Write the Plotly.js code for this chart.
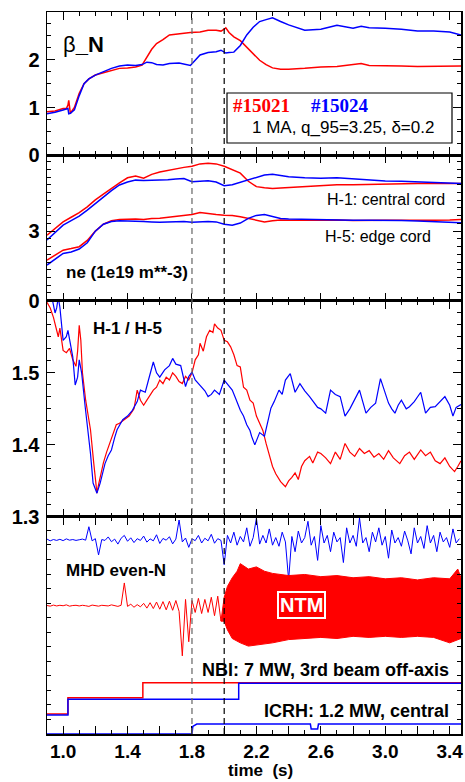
<!DOCTYPE html>
<html>
<head>
<meta charset="utf-8">
<script src="https://cdn.plot.ly/plotly-3.0.1.min.js"></script>
<style>html,body{margin:0;padding:0;background:#fff;}#chart{width:465px;height:782px;}</style>
</head>
<body>
<div id="chart"></div>
<script>
// ---------- Panel 1: beta_N ----------
const tBeta = [0.9, 0.95, 1.0, 1.02, 1.03, 1.035, 1.045, 1.07, 1.1, 1.13, 1.16, 1.2, 1.25, 1.3, 1.35, 1.4, 1.45, 1.49, 1.52, 1.55, 1.58, 1.62, 1.66, 1.72, 1.79, 1.85, 1.9, 1.95, 1.98, 2.0, 2.01, 2.03, 2.06, 2.1, 2.14, 2.18, 2.22, 2.26, 2.3, 2.35, 2.4, 2.5, 2.6, 2.7, 2.8, 2.85, 2.9, 3.0, 3.1, 3.2, 3.3, 3.4, 3.47];
const betaRed = [0.91, 0.93, 0.98, 0.98, 1.05, 1.15, 0.88, 1.0, 1.3, 1.5, 1.6, 1.68, 1.73, 1.78, 1.82, 1.83, 1.85, 1.89, 2.05, 2.22, 2.34, 2.42, 2.52, 2.55, 2.57, 2.58, 2.62, 2.62, 2.6, 2.64, 2.67, 2.57, 2.48, 2.4, 2.27, 2.12, 1.99, 1.9, 1.83, 1.8, 1.8, 1.82, 1.85, 1.86, 1.89, 1.92, 1.88, 1.88, 1.87, 1.86, 1.86, 1.86, 1.87];
const betaBlue = [0.87, 0.9, 0.95, 0.97, 0.98, 0.87, 0.88, 0.95, 1.25, 1.5, 1.6, 1.68, 1.75, 1.82, 1.87, 1.89, 1.88, 1.9, 1.95, 1.94, 1.9, 1.89, 1.92, 1.93, 1.88, 2.1, 2.15, 2.17, 2.2, 2.16, 2.14, 2.15, 2.16, 2.3, 2.52, 2.68, 2.8, 2.84, 2.88, 2.8, 2.73, 2.62, 2.64, 2.72, 2.66, 2.7, 2.67, 2.66, 2.64, 2.6, 2.6, 2.58, 2.52];

// ---------- Panel 2: density ----------
const tNe = [0.9, 1.0, 1.05, 1.1, 1.15, 1.2, 1.25, 1.3, 1.35, 1.4, 1.45, 1.5, 1.55, 1.6, 1.65, 1.7, 1.75, 1.8, 1.85, 1.9, 1.95, 2.0, 2.05, 2.1, 2.15, 2.2, 2.25, 2.3, 2.35, 2.4, 2.5, 2.6, 2.7, 2.8, 2.9, 3.0, 3.1, 3.2, 3.3, 3.4, 3.47];
const neRedH1 = [2.83, 3.4, 3.6, 3.8, 4.05, 4.35, 4.6, 4.85, 5.08, 5.3, 5.38, 5.28, 5.45, 5.55, 5.62, 5.7, 5.75, 5.8, 5.9, 5.93, 5.9, 5.8, 5.65, 5.5, 5.15, 4.92, 4.87, 4.84, 4.86, 4.88, 4.95, 4.98, 5.0, 5.0, 5.02, 5.03, 5.04, 5.05, 5.05, 5.06, 5.06];
const neBlueH1 = [2.62, 3.26, 3.45, 3.65, 3.91, 4.2, 4.48, 4.75, 4.99, 5.12, 5.2, 5.18, 5.2, 5.2, 5.22, 5.25, 5.27, 5.13, 5.15, 5.17, 5.12, 4.96, 5.0, 5.1, 5.2, 5.33, 5.42, 5.45, 5.4, 5.35, 5.3, 5.28, 5.3, 5.25, 5.2, 5.16, 5.15, 5.12, 5.1, 5.08, 5.06];
const neRedH5 = [1.75, 2.18, 2.25, 2.33, 2.6, 3.0, 3.3, 3.45, 3.5, 3.52, 3.52, 3.5, 3.55, 3.56, 3.6, 3.66, 3.69, 3.72, 3.8, 3.75, 3.72, 3.69, 3.68, 3.62, 3.55, 3.45, 3.4, 3.45, 3.48, 3.47, 3.48, 3.47, 3.48, 3.46, 3.48, 3.47, 3.47, 3.46, 3.47, 3.48, 3.5];
const neBlueH5 = [1.54, 2.04, 2.1, 2.23, 2.5, 3.0, 3.3, 3.42, 3.45, 3.45, 3.43, 3.42, 3.4, 3.38, 3.4, 3.42, 3.42, 3.38, 3.4, 3.42, 3.4, 3.3, 3.26, 3.35, 3.55, 3.68, 3.72, 3.65, 3.55, 3.52, 3.5, 3.5, 3.48, 3.47, 3.47, 3.48, 3.46, 3.44, 3.42, 3.38, 3.36];

// ---------- Panel 3: H-1 / H-5 ----------
const tRatioRed = [0.9, 0.92, 0.94, 0.96, 0.97, 0.98, 0.99, 1.0, 1.02, 1.04, 1.06, 1.08, 1.09, 1.1, 1.11, 1.12, 1.14, 1.16, 1.17, 1.19, 1.2, 1.21, 1.22, 1.23, 1.25, 1.27, 1.29, 1.31, 1.33, 1.35, 1.38, 1.41, 1.44, 1.46, 1.48, 1.5, 1.52, 1.54, 1.56, 1.58, 1.6, 1.62, 1.64, 1.66, 1.68, 1.7, 1.72, 1.74, 1.76, 1.78, 1.8, 1.82, 1.84, 1.85, 1.87, 1.89, 1.91, 1.93, 1.94, 1.96, 1.98, 2.0, 2.02, 2.04, 2.06, 2.08, 2.1, 2.12, 2.14, 2.16, 2.18, 2.2, 2.22, 2.24, 2.26, 2.28, 2.3, 2.32, 2.35, 2.38, 2.4, 2.42, 2.44, 2.46, 2.48, 2.5, 2.53, 2.55, 2.58, 2.6, 2.63, 2.66, 2.69, 2.72, 2.75, 2.78, 2.81, 2.84, 2.87, 2.9, 2.93, 2.96, 2.99, 3.02, 3.05, 3.09, 3.12, 3.15, 3.18, 3.22, 3.25, 3.28, 3.31, 3.34, 3.37, 3.4, 3.43, 3.45, 3.47];
const ratioRed = [1.598, 1.59, 1.577, 1.558, 1.55, 1.562, 1.545, 1.531, 1.528, 1.534, 1.518, 1.509, 1.53, 1.566, 1.545, 1.5, 1.462, 1.43, 1.421, 1.375, 1.356, 1.333, 1.345, 1.356, 1.375, 1.39, 1.402, 1.415, 1.428, 1.43, 1.435, 1.44, 1.45, 1.476, 1.462, 1.455, 1.462, 1.47, 1.476, 1.48, 1.49, 1.485, 1.494, 1.49, 1.5, 1.495, 1.488, 1.485, 1.495, 1.49, 1.5, 1.518, 1.525, 1.541, 1.53, 1.55, 1.559, 1.556, 1.568, 1.562, 1.559, 1.545, 1.543, 1.536, 1.525, 1.51, 1.508, 1.48, 1.476, 1.462, 1.458, 1.44, 1.43, 1.42, 1.402, 1.385, 1.37, 1.36, 1.349, 1.342, 1.35, 1.355, 1.361, 1.352, 1.37, 1.378, 1.384, 1.375, 1.39, 1.388, 1.382, 1.374, 1.39, 1.38, 1.402, 1.39, 1.384, 1.395, 1.388, 1.392, 1.383, 1.388, 1.38, 1.392, 1.382, 1.374, 1.385, 1.39, 1.38, 1.393, 1.385, 1.39, 1.378, 1.374, 1.382, 1.37, 1.363, 1.37, 1.378];
const tRatioBlue = [0.9, 0.93, 0.95, 0.96, 0.97, 0.98, 1.0, 1.02, 1.03, 1.05, 1.06, 1.075, 1.09, 1.1, 1.115, 1.137, 1.16, 1.17, 1.186, 1.21, 1.23, 1.26, 1.28, 1.3, 1.32, 1.335, 1.37, 1.4, 1.43, 1.46, 1.48, 1.51, 1.53, 1.56, 1.58, 1.6, 1.63, 1.66, 1.68, 1.7, 1.73, 1.76, 1.78, 1.8, 1.82, 1.85, 1.88, 1.9, 1.92, 1.94, 1.97, 2.0, 2.02, 2.05, 2.07, 2.1, 2.12, 2.14, 2.16, 2.17, 2.19, 2.22, 2.25, 2.27, 2.29, 2.31, 2.34, 2.36, 2.38, 2.41, 2.44, 2.47, 2.5, 2.53, 2.56, 2.58, 2.6, 2.63, 2.66, 2.69, 2.72, 2.75, 2.78, 2.81, 2.84, 2.86, 2.88, 2.91, 2.94, 2.97, 3.0, 3.02, 3.04, 3.06, 3.08, 3.1, 3.13, 3.15, 3.18, 3.22, 3.25, 3.28, 3.31, 3.34, 3.37, 3.4, 3.42, 3.44, 3.47];
const ratioBlue = [1.62, 1.605, 1.583, 1.59, 1.605, 1.591, 1.545, 1.55, 1.559, 1.53, 1.522, 1.483, 1.494, 1.518, 1.5, 1.453, 1.41, 1.388, 1.347, 1.333, 1.347, 1.374, 1.385, 1.393, 1.41, 1.421, 1.435, 1.44, 1.448, 1.46, 1.476, 1.473, 1.49, 1.515, 1.5, 1.494, 1.504, 1.51, 1.52, 1.512, 1.51, 1.481, 1.495, 1.501, 1.49, 1.483, 1.475, 1.467, 1.47, 1.476, 1.47, 1.49, 1.485, 1.476, 1.465, 1.448, 1.44, 1.428, 1.42, 1.412, 1.4, 1.417, 1.412, 1.43, 1.451, 1.46, 1.476, 1.47, 1.49, 1.499, 1.473, 1.485, 1.475, 1.467, 1.458, 1.452, 1.45, 1.444, 1.476, 1.47, 1.467, 1.44, 1.45, 1.462, 1.476, 1.46, 1.444, 1.452, 1.458, 1.492, 1.47, 1.458, 1.45, 1.444, 1.455, 1.462, 1.45, 1.453, 1.46, 1.473, 1.444, 1.452, 1.453, 1.46, 1.467, 1.455, 1.44, 1.452, 1.456];

// ---------- Panel 4: MHD / heating (arbitrary units) ----------
const mhdStart = 0.9, mhdStep = 0.02;
const mhdBlue = [89.8, 89.0, 89.6, 89.2, 89.7, 89.1, 89.9, 89.3, 89.6, 89.2, 89.5, 89.8, 89.3,
  95.5, 89.0, 90.0, 82.5, 89.6, 89.2, 90.8, 88.6, 89.8, 87.5, 90.2, 91.5, 88.8, 90.4, 88.2, 90.0, 89.2, 91.2, 88.4, 89.9, 89.0, 91.8, 87.8, 90.1, 89.3, 90.9, 87.6, 89.8, 98.6, 88.5, 90.3, 86.0, 89.9, 89.1, 91.5, 88.0, 90.2, 89.0, 92.0, 87.9, 90.0, 89.2,
  78.0, 91.5, 88.0, 93.0, 87.0, 91.0, 88.5, 95.0, 86.5, 90.5, 99.5, 87.5, 91.5, 88.0, 94.5, 87.0, 90.5, 86.5, 93.0, 88.5, 71.0, 91.0, 84.0, 93.5, 88.0, 90.5, 98.0, 87.0, 91.0, 80.0, 96.0, 88.0, 91.5, 84.0, 93.0, 88.5, 90.5, 79.0, 95.0, 88.0, 91.5, 86.5, 99.5, 88.0, 90.5, 84.0, 93.0, 88.5, 95.0, 87.0, 91.0, 81.0, 94.0, 88.0, 90.5, 86.5, 93.5, 89.0, 83.0, 95.0, 88.0, 91.0, 85.5, 96.0, 88.0, 91.5, 84.0, 93.0, 88.5, 90.5, 86.0, 94.5, 88.0, 90.0];
const mhdRedPre = [59.2, 58.9, 59.4, 59.0, 59.3, 59.1, 59.5, 58.9, 59.2, 59.3, 59.0, 59.3, 59.1, 58.8, 59.4, 59.0, 58.9, 59.3, 59.2, 59.0, 59.5, 59.0, 58.8, 59.3,
  69.6, 58.8, 59.8, 58.4, 59.6, 58.6, 60.2, 58.0, 60.5, 57.8, 60.8, 57.5, 61.0, 57.2, 61.2, 57.0, 61.5, 56.5, 36.0, 62.0, 42.5, 61.5, 56.0, 62.5, 55.5, 62.0, 56.0, 63.0, 54.5, 63.5, 52.0];
const tNtmTop = [1.98, 2.0, 2.02, 2.05, 2.08, 2.1, 2.15, 2.2, 2.25, 2.3, 2.4, 2.5, 2.6, 2.7, 2.8, 2.9, 3.0, 3.1, 3.2, 3.3, 3.4, 3.45, 3.47];
const ntmTop = [52, 63, 68, 72, 75, 78.5, 76, 77, 75, 74, 73, 73.5, 72.5, 73, 72, 72.5, 71.5, 72, 71, 72, 71.5, 76, 72];
const tNtmBot = [1.98, 2.0, 2.02, 2.05, 2.1, 2.15, 2.2, 2.3, 2.4, 2.5, 2.6, 2.7, 2.8, 2.9, 3.0, 3.1, 3.2, 3.3, 3.4, 3.47];
const ntmBot = [52, 52, 48, 44, 42, 40.5, 41, 42, 43.5, 44, 44.5, 44, 45, 44.5, 45, 44.5, 45, 44.5, 42, 44];
const tNbiRed = [0.9, 1.03, 1.495, 3.47];
const nbiRed = [9.2, 16.7, 23.6, 23.6];
const tNbiBlue = [0.9, 1.03, 2.09, 3.47];
const nbiBlue = [8.8, 16.0, 23.4, 23.4];
const tIcrh = [0.9, 1.8, 1.805, 1.83, 2.535, 2.54, 2.58, 2.585, 3.47];
const icrhBlue = [0, 0, 3.5, 4.6, 4.6, 2.3, 2.3, 4.6, 4.6];

// ---------- ticks ----------
const xTickVals = [1.0, 1.2, 1.4, 1.6, 1.8, 2.0, 2.2, 2.4, 2.6, 2.8, 3.0, 3.2, 3.4];
const xTickText = ['1.0', '', '1.4', '', '1.8', '', '2.2', '', '2.6', '', '3.0', '', '3.4'];
const y1TickVals = [0, 1, 2]; const y1TickText = ['0', '1', '2'];
const y2TickVals = [0, 3]; const y2TickText = ['0', '3'];
const y3TickVals = [1.3, 1.4, 1.5]; const y3TickText = ['1.3', '1.4', '1.5'];
const dashTimes = [1.8, 2.0];

// ---------- build ----------
const RED = '#ff0000', BLUE = '#0000ff';
const tMhd = mhdBlue.map((_, i) => +(mhdStart + i * mhdStep).toFixed(3));
const tMhdRed = mhdRedPre.map((_, i) => +(mhdStart + i * mhdStep).toFixed(3));

function ln(x, y, color, xa, ya, w, shape) {
  return {x: x, y: y, xaxis: xa, yaxis: ya, type: 'scatter', mode: 'lines',
    line: {color: color, width: w || 1.5, shape: shape || 'linear'}, hoverinfo: 'skip', showlegend: false};
}

const traces = [
  ln(tBeta, betaRed, RED, 'x4', 'y4'),
  ln(tBeta, betaBlue, BLUE, 'x4', 'y4'),
  ln(tNe, neRedH1, RED, 'x3', 'y3'),
  ln(tNe, neBlueH1, BLUE, 'x3', 'y3'),
  ln(tNe, neRedH5, RED, 'x3', 'y3'),
  ln(tNe, neBlueH5, BLUE, 'x3', 'y3'),
  ln(tRatioRed, ratioRed, RED, 'x2', 'y2', 1.2),
  ln(tRatioBlue, ratioBlue, BLUE, 'x2', 'y2', 1.2),
  ln(tMhd, mhdBlue, BLUE, 'x', 'y', 1),
  ln(tMhdRed, mhdRedPre, RED, 'x', 'y', 1),
  {x: tNtmTop.concat(tNtmBot.slice().reverse()), y: ntmTop.concat(ntmBot.slice().reverse()),
   xaxis: 'x', yaxis: 'y', type: 'scatter', mode: 'lines', fill: 'toself', fillcolor: RED,
   line: {color: RED, width: 1}, hoverinfo: 'skip', showlegend: false},
  ln(tNbiRed, nbiRed, RED, 'x', 'y', 1.5, 'hv'),
  ln(tNbiBlue, nbiBlue, BLUE, 'x', 'y', 1.5, 'hv'),
  ln(tIcrh, icrhBlue, BLUE, 'x', 'y', 1.5)
];

const FAM = 'Liberation Sans, Arial, sans-serif';
const tickFontX = {family: FAM, size: 19, color: '#000', weight: 'bold'};
const tickFontY = {family: FAM, size: 20, color: '#000', weight: 'bold'};

function xAxis(anchor, labels) {
  const a = {range: [0.9, 3.47], anchor: anchor, showline: true, linecolor: '#000', linewidth: 1.5,
    mirror: 'ticks', ticks: 'inside', ticklen: 8, tickwidth: 1, tickcolor: '#000',
    tickmode: 'array', tickvals: xTickVals, ticktext: xTickText, ticklabelstandoff: 0,
    minor: {ticks: 'inside', dtick: 0.1, tick0: 0.9, ticklen: 4, tickcolor: '#000', tickwidth: 1},
    showgrid: false, zeroline: false, showticklabels: labels, tickfont: tickFontX, fixedrange: true};
  if (anchor !== 'y') a.matches = 'x';
  return a;
}
function yAxis(domain, range, vals, text, minorD, anchor) {
  return {domain: domain, range: range, anchor: anchor, showline: true, linecolor: '#000', linewidth: 1.5,
    mirror: 'ticks', ticks: 'inside', ticklen: 8, tickwidth: 1, tickcolor: '#000',
    tickmode: 'array', tickvals: vals, ticktext: text, ticklabelstandoff: 2,
    minor: {ticks: 'inside', dtick: minorD, tick0: range[0], ticklen: 4, tickcolor: '#000', tickwidth: 1},
    showgrid: false, zeroline: false, tickfont: tickFontY, fixedrange: true};
}

const H = 722, W = 414;
const py = p => (734 - p) / H;
const px = p => (p - 47) / W;

const sansB = s => ({family: FAM, size: s, color: '#000', weight: 'bold'});
const sans = s => ({family: FAM, size: s, color: '#000'});

const annotations = [
  {text: 'β<b>_N</b>', x: px(83), y: py(44), font: sans(22)},
  {text: '#15021', x: px(261.7), y: py(105), font: {family: 'Liberation Serif, Times New Roman, serif', size: 19, color: RED, weight: 'bold'}},
  {text: '#15024', x: px(340), y: py(105), font: {family: 'Liberation Serif, Times New Roman, serif', size: 19, color: BLUE, weight: 'bold'}},
  {text: '1 MA, q_95=3.25, δ=0.2', x: px(342.5), y: py(127), font: sans(17)},
  {text: 'H-1: central cord', x: px(447), y: py(199.3), xanchor: 'right', font: sans(16)},
  {text: 'H-5: edge cord', x: px(433), y: py(236), xanchor: 'right', font: sans(16)},
  {text: 'ne (1e19 m**-3)', x: px(64), y: py(272.3), xanchor: 'left', font: sansB(17)},
  {text: 'H-1 / H-5', x: px(91), y: py(328.3), xanchor: 'left', font: sansB(17)},
  {text: 'MHD even-N', x: px(64), y: py(570), xanchor: 'left', font: sansB(17)},
  {text: 'NTM', x: px(301.7), y: py(604.7), font: {family: FAM, size: 20, color: '#fff', weight: 'bold'},
   bgcolor: RED, bordercolor: '#fff', borderwidth: 2, borderpad: 1},
  {text: 'NBI: 7 MW, 3rd beam off-axis', x: px(451), y: py(670), xanchor: 'right', font: sansB(18)},
  {text: 'ICRH: 1.2 MW, central', x: px(451), y: py(711), xanchor: 'right', font: sansB(18)},
  {text: 'time\u00a0 (s)', x: px(260.5), y: py(781), yanchor: 'bottom', borderpad: 0, font: sansB(17)}
].map(a => Object.assign({xref: 'paper', yref: 'paper', showarrow: false, xanchor: 'center', yanchor: 'middle'}, a));

const shapes = dashTimes.map((t, i) => ({type: 'line', xref: 'x', yref: 'paper', x0: t, x1: t, y0: 0, y1: 1,
  line: {color: i === 0 ? '#666' : '#000', width: 1.2, dash: '6px,4px'}, layer: 'above'}));
shapes.push({type: 'rect', xref: 'paper', yref: 'paper', x0: px(227), x1: px(452), y0: py(143), y1: py(93),
  line: {color: '#000', width: 1.2}, fillcolor: 'rgba(0,0,0,0)', layer: 'above'});

const layout = {
  width: 465, height: 782, margin: {l: 47, r: 4, t: 12, b: 48},
  paper_bgcolor: '#fff', plot_bgcolor: '#fff', showlegend: false,
  xaxis: xAxis('y', true), xaxis2: xAxis('y2', false), xaxis3: xAxis('y3', false), xaxis4: xAxis('y4', false),
  yaxis: yAxis([0, 0.3006], [0, 100], [], [], 6.7, 'x'),
  yaxis2: yAxis([0.3006, 0.6001], [1.3, 1.6], y3TickVals, y3TickText, 0.1 / 6, 'x2'),
  yaxis3: yAxis([0.6001, 0.8015], [0, 6.27], y2TickVals, y2TickText, 1 / 3, 'x3'),
  yaxis4: yAxis([0.8015, 1], [0, 3], y1TickVals, y1TickText, 0.25, 'x4'),
  annotations: annotations, shapes: shapes
};

Plotly.newPlot('chart', traces, layout, {displayModeBar: false, staticPlot: true});
</script>
</body>
</html>
